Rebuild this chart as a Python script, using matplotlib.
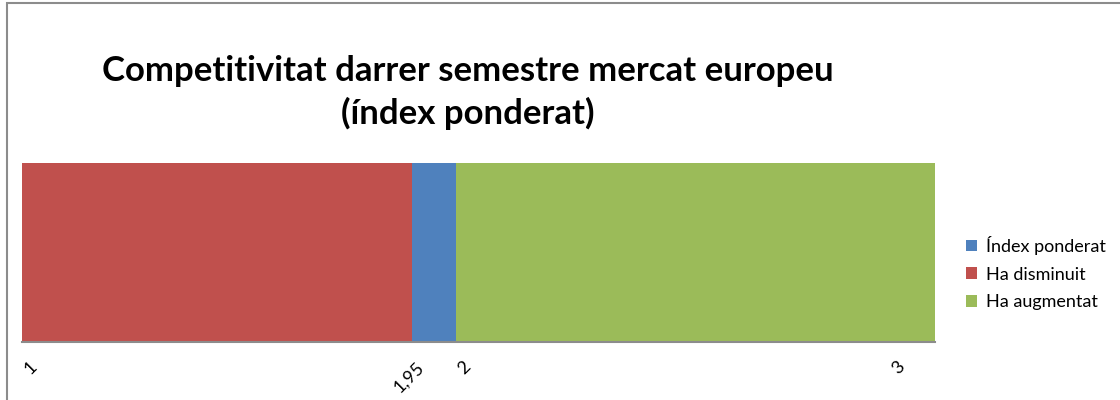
import matplotlib
matplotlib.use('agg')
import matplotlib.pyplot as plt
from matplotlib.patches import Rectangle, Patch

plt.rcParams['font.family'] = ['Lato', 'DejaVu Sans']

# data: horizontal stacked segments (start, end) on the index scale
series_names = ['Índex ponderat', 'Ha disminuit', 'Ha augmentat']
series_colors = ['#4f81bd', '#c0504d', '#9bbb59']
seg_red = (1.0, 1.855)
seg_blue = (1.855, 1.95)
seg_green = (1.95, 3.0)

tick_labels = ['1', '1,95', '2', '3']
tick_pos = [1.018, 1.848, 1.968, 2.919]

fig = plt.figure(figsize=(11.2, 4), dpi=100)
fig.patch.set_facecolor('white')
fig.patches.append(Rectangle((7 / 1120, -0.1), 1.2, 1.1 - 3 / 400,
                             transform=fig.transFigure, fill=False,
                             edgecolor='#8c8c8c', lw=1.5))

ax = fig.add_axes([22 / 1120, 1 - 342 / 400, (935 - 22) / 1120, (342 - 163) / 400])
for seg, col in [(seg_red, series_colors[1]), (seg_blue, series_colors[0]),
                 (seg_green, series_colors[2])]:
    ax.barh(0, seg[1] - seg[0], left=seg[0], height=1.0, color=col, lw=0)
ax.set_xlim(1, 3)
ax.set_ylim(-0.5, 0.5)
ax.set_yticks([])
for s in ['top', 'right', 'left']:
    ax.spines[s].set_visible(False)
ax.spines['bottom'].set_color('#8c8c8c')
ax.spines['bottom'].set_linewidth(1.5)
ax.set_xticks(tick_pos)
ax.set_xticklabels(tick_labels, rotation=45, ha='center', fontsize=13)
ax.tick_params(axis='x', length=0, pad=12)

fig.text(468 / 1120, 1 - 71 / 400, 'Competitivitat darrer semestre mercat europeu',
         ha='center', va='center', fontsize=25, fontweight='bold')
fig.text(468 / 1120, 1 - 113 / 400, '(índex ponderat)',
         ha='center', va='center', fontsize=25, fontweight='bold')

handles = [Patch(facecolor=c, edgecolor='none') for c in series_colors]
fig.legend(handles, series_names, loc='center left',
           bbox_to_anchor=(950 / 1120, 1 - 273 / 400), frameon=False,
           fontsize=13, handlelength=0.6, handleheight=0.6,
           handletextpad=0.5, labelspacing=0.65)

fig.savefig('out.png', dpi=100)
